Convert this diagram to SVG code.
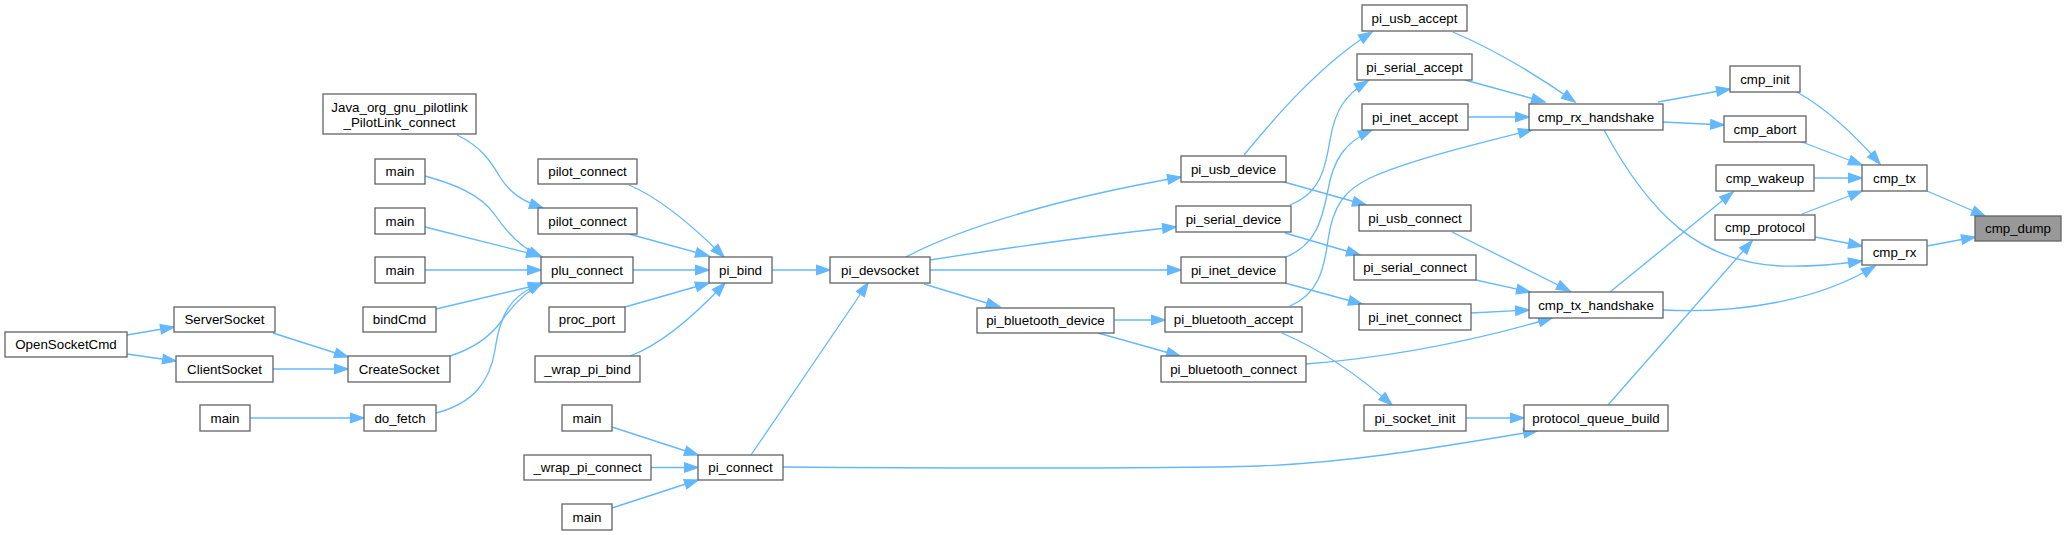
<svg xmlns="http://www.w3.org/2000/svg" width="2066" height="535" viewBox="0 0 2066 535">
<style>
.node rect{fill:#ffffff;stroke:#666666;stroke-width:1.33}
.node.hl rect{fill:#999999}
.node text{font-family:"Liberation Sans",Arial,sans-serif;font-size:13.33px;fill:#000000;text-anchor:middle}
.edges path{fill:none;stroke:#63b8ff;stroke-width:1.33;marker-end:url(#arr)}
</style>
<defs>
<marker id="arr" markerUnits="userSpaceOnUse" markerWidth="16" markerHeight="12" viewBox="-1 -6 16 12" refX="13.3" refY="0" orient="auto">
<path d="M0,-4.67 L13.3,0 L0,4.67 Z" fill="#63b8ff" stroke="#63b8ff" stroke-width="1.33"/>
</marker>
</defs>
<rect width="2066" height="535" fill="#ffffff"/>
<g class="edges" id="edges">
<path d="M127,335 L174,327"/>
<path d="M127,354 L176,361"/>
<path d="M273,333 L348,357"/>
<path d="M273,369 L348,369"/>
<path d="M250,418 L364,418"/>
<path d="M457,135 C480,146 490,160 500,177 C510,193 522,201 543,208"/>
<path d="M425,176 C450,183 480,193 495,215 C510,237 525,250 542,257"/>
<path d="M425,227 L540,256"/>
<path d="M425,270 L541,270"/>
<path d="M436,309 L542,284"/>
<path d="M450,356 C475,348 490,336 500,323 C512,306 525,292 542,283"/>
<path d="M436,413 C475,403 490,380 495,350 C500,315 510,295 542,283"/>
<path d="M629,185 C660,198 695,228 724,257"/>
<path d="M629,234 L709,256"/>
<path d="M633,270 L709,270"/>
<path d="M625,307 L709,283"/>
<path d="M630,356 C660,345 695,315 725,283"/>
<path d="M612,427 L698,455"/>
<path d="M651,467.5 L698,467.5"/>
<path d="M612,508 L698,480"/>
<path d="M772,270 L830,270"/>
<path d="M751,455 L868,283"/>
<path d="M783,467 C900,468 1150,469 1260,466 C1360,462 1450,445 1537,431"/>
<path d="M906,257 C960,228 1060,198 1181,177"/>
<path d="M930,260 C1000,249 1090,236 1176,227"/>
<path d="M930,270 L1181,270"/>
<path d="M924,284 L1000,307"/>
<path d="M1114,320 L1165,320"/>
<path d="M1098,333 L1180,356"/>
<path d="M1244,155 C1275,117 1320,65 1372,32"/>
<path d="M1284,182 L1366,205"/>
<path d="M1290,205 C1320,193 1325,170 1330,140 C1335,110 1345,95 1368,81"/>
<path d="M1285,233 L1360,255"/>
<path d="M1286,257 C1316,245 1322,220 1328,190 C1333,160 1345,142 1372,130"/>
<path d="M1285,283 L1362,304"/>
<path d="M1290,306 C1318,294 1324,270 1328,240 C1333,205 1345,190 1370,178 C1410,160 1480,143 1532,130"/>
<path d="M1282,333 C1310,345 1350,368 1392,405"/>
<path d="M1306,364 C1380,358 1460,345 1552,318"/>
<path d="M1453,32 C1490,48 1530,70 1575,102"/>
<path d="M1465,80 L1545,102"/>
<path d="M1468,117 L1529,117"/>
<path d="M1452,232 L1570,291"/>
<path d="M1476,280 L1530,292"/>
<path d="M1471,313 L1529,310"/>
<path d="M1466,418 L1524,418"/>
<path d="M1658,102 L1730,89"/>
<path d="M1663,122 L1724,125"/>
<path d="M1604,130 C1650,215 1700,262 1780,266 C1810,267 1840,264 1862,261"/>
<path d="M1610,292 L1733,192"/>
<path d="M1663,310 C1740,314 1820,300 1875,266"/>
<path d="M1608,405 L1752,241"/>
<path d="M1797,92 C1825,108 1855,135 1880,164"/>
<path d="M1802,142 L1862,165"/>
<path d="M1814,178 L1862,178"/>
<path d="M1802,214 L1862,191"/>
<path d="M1815,237 L1862,246"/>
<path d="M1927,191 L1985,216"/>
<path d="M1927,246 L1975,237"/>
</g>
<g id="n_OpenSocketCmd" class="node"><rect x="5" y="332" width="122" height="25"/><text x="66" y="349.2">OpenSocketCmd</text></g>
<g id="n_ServerSocket" class="node"><rect x="174" y="307" width="101" height="25"/><text x="224.5" y="324.2">ServerSocket</text></g>
<g id="n_ClientSocket" class="node"><rect x="176" y="356" width="97" height="26"/><text x="224.5" y="373.7">ClientSocket</text></g>
<g id="n_main_a" class="node"><rect x="200" y="405" width="50" height="26"/><text x="225" y="422.7">main</text></g>
<g id="n_Java" class="node"><rect x="323" y="94" width="153" height="40"/><text x="399.5" y="111.5">Java_org_gnu_pilotlink</text><text x="399.5" y="126.5">_PilotLink_connect</text></g>
<g id="n_main1" class="node"><rect x="375" y="159" width="50" height="25"/><text x="400" y="176.2">main</text></g>
<g id="n_main2" class="node"><rect x="375" y="208" width="50" height="26"/><text x="400" y="225.7">main</text></g>
<g id="n_main3" class="node"><rect x="375" y="257" width="50" height="26"/><text x="400" y="274.7">main</text></g>
<g id="n_bindCmd" class="node"><rect x="363" y="307" width="73" height="25"/><text x="399.5" y="324.2">bindCmd</text></g>
<g id="n_CreateSocket" class="node"><rect x="348" y="356" width="102" height="26"/><text x="399" y="373.7">CreateSocket</text></g>
<g id="n_do_fetch" class="node"><rect x="364" y="405" width="72" height="26"/><text x="400" y="422.7">do_fetch</text></g>
<g id="n_pilot_connect1" class="node"><rect x="538" y="159" width="99" height="25"/><text x="587.5" y="176.2">pilot_connect</text></g>
<g id="n_pilot_connect2" class="node"><rect x="538" y="208" width="99" height="26"/><text x="587.5" y="225.7">pilot_connect</text></g>
<g id="n_plu_connect" class="node"><rect x="541" y="257" width="92" height="26"/><text x="587" y="274.7">plu_connect</text></g>
<g id="n_proc_port" class="node"><rect x="549" y="307" width="76" height="25"/><text x="587" y="324.2">proc_port</text></g>
<g id="n_wrap_pi_bind" class="node"><rect x="535" y="356" width="105" height="26"/><text x="587.5" y="373.7">_wrap_pi_bind</text></g>
<g id="n_main_b" class="node"><rect x="562" y="405" width="50" height="26"/><text x="587" y="422.7">main</text></g>
<g id="n_wrap_pi_connect" class="node"><rect x="524" y="455" width="127" height="25"/><text x="587.5" y="472.2">_wrap_pi_connect</text></g>
<g id="n_main_c" class="node"><rect x="562" y="504" width="50" height="26"/><text x="587" y="521.7">main</text></g>
<g id="n_pi_bind" class="node"><rect x="709" y="257" width="63" height="26"/><text x="740.5" y="274.7">pi_bind</text></g>
<g id="n_pi_connect" class="node"><rect x="698" y="455" width="85" height="25"/><text x="740.5" y="472.2">pi_connect</text></g>
<g id="n_pi_devsocket" class="node"><rect x="830" y="257" width="100" height="26"/><text x="880" y="274.7">pi_devsocket</text></g>
<g id="n_pi_bluetooth_device" class="node"><rect x="977" y="308" width="137" height="25"/><text x="1045.5" y="325.2">pi_bluetooth_device</text></g>
<g id="n_pi_usb_device" class="node"><rect x="1181" y="156" width="105" height="26"/><text x="1233.5" y="173.7">pi_usb_device</text></g>
<g id="n_pi_serial_device" class="node"><rect x="1176" y="206" width="115" height="26"/><text x="1233.5" y="223.7">pi_serial_device</text></g>
<g id="n_pi_inet_device" class="node"><rect x="1181" y="257" width="105" height="26"/><text x="1233.5" y="274.7">pi_inet_device</text></g>
<g id="n_pi_bluetooth_accept" class="node"><rect x="1165" y="307" width="137" height="25"/><text x="1233.5" y="324.2">pi_bluetooth_accept</text></g>
<g id="n_pi_bluetooth_connect" class="node"><rect x="1161" y="356" width="145" height="26"/><text x="1233.5" y="373.7">pi_bluetooth_connect</text></g>
<g id="n_pi_usb_accept" class="node"><rect x="1362" y="5" width="105" height="26"/><text x="1414.5" y="22.7">pi_usb_accept</text></g>
<g id="n_pi_serial_accept" class="node"><rect x="1357" y="54" width="115" height="26"/><text x="1414.5" y="71.7">pi_serial_accept</text></g>
<g id="n_pi_inet_accept" class="node"><rect x="1362" y="104" width="106" height="26"/><text x="1415" y="121.7">pi_inet_accept</text></g>
<g id="n_pi_usb_connect" class="node"><rect x="1359" y="205" width="112" height="26"/><text x="1415" y="222.7">pi_usb_connect</text></g>
<g id="n_pi_serial_connect" class="node"><rect x="1354" y="255" width="122" height="25"/><text x="1415" y="272.2">pi_serial_connect</text></g>
<g id="n_pi_inet_connect" class="node"><rect x="1359" y="304" width="112" height="26"/><text x="1415" y="321.7">pi_inet_connect</text></g>
<g id="n_pi_socket_init" class="node"><rect x="1364" y="405" width="102" height="26"/><text x="1415" y="422.7">pi_socket_init</text></g>
<g id="n_cmp_rx_handshake" class="node"><rect x="1529" y="104" width="134" height="26"/><text x="1596" y="121.7">cmp_rx_handshake</text></g>
<g id="n_cmp_tx_handshake" class="node"><rect x="1529" y="292" width="134" height="26"/><text x="1596" y="309.7">cmp_tx_handshake</text></g>
<g id="n_protocol_queue_build" class="node"><rect x="1524" y="405" width="144" height="26"/><text x="1596" y="422.7">protocol_queue_build</text></g>
<g id="n_cmp_init" class="node"><rect x="1730" y="66" width="70" height="26"/><text x="1765" y="83.7">cmp_init</text></g>
<g id="n_cmp_abort" class="node"><rect x="1724" y="116" width="82" height="26"/><text x="1765" y="133.7">cmp_abort</text></g>
<g id="n_cmp_wakeup" class="node"><rect x="1716" y="165" width="98" height="26"/><text x="1765" y="182.7">cmp_wakeup</text></g>
<g id="n_cmp_protocol" class="node"><rect x="1715" y="215" width="100" height="25"/><text x="1765" y="232.2">cmp_protocol</text></g>
<g id="n_cmp_tx" class="node"><rect x="1862" y="165" width="65" height="26"/><text x="1894.5" y="182.7">cmp_tx</text></g>
<g id="n_cmp_rx" class="node"><rect x="1862" y="240" width="65" height="25"/><text x="1894.5" y="257.2">cmp_rx</text></g>
<g id="n_cmp_dump" class="node hl"><rect x="1975" y="216" width="86" height="25"/><text x="2018" y="233.2">cmp_dump</text></g>
</svg>
